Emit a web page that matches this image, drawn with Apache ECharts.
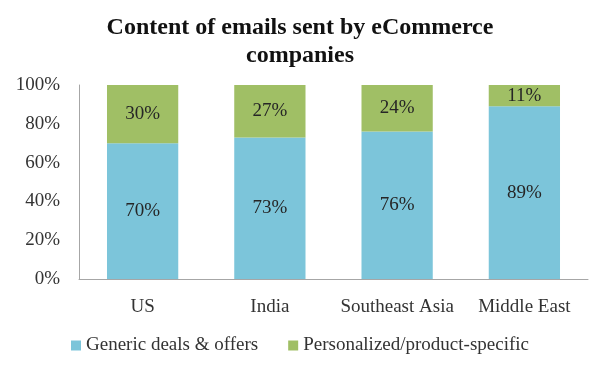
<!DOCTYPE html>
<html><head><meta charset="utf-8">
<script src="https://cdn.jsdelivr.net/npm/echarts@6/dist/echarts.min.js"></script>
<style>html,body{margin:0;padding:0;background:#fff}#c{width:600px;height:366px}</style>
</head><body><div id="c"></div>
<script>
const categories = ['US', 'India', 'Southeast Asia', 'Middle East'];
const generic = [70, 73, 76, 89];
const personalized = [30, 27, 24, 11];
const seriesNames = ['Generic deals & offers', 'Personalized/product-specific'];
const FONT = '"Liberation Serif", "DejaVu Serif", serif';
const chart = echarts.init(document.getElementById('c'));
const lbl = {show: true, position: 'inside', formatter: p => p.value + '%', color: '#262626', fontFamily: FONT, fontSize: 19};
chart.setOption({
  animation: false,
  title: {text: 'Content of emails sent by eCommerce\ncompanies', left: 'center', top: 9,
    textStyle: {fontFamily: FONT, fontWeight: 'bold', fontSize: 24, color: '#111', lineHeight: 28}},
  legend: {bottom: 6, left: 'center', itemWidth: 10, itemHeight: 10, itemGap: 30, icon: 'rect',
    textStyle: {fontFamily: FONT, fontSize: 19, color: '#333'}},
  grid: {left: 79, right: 12, top: 85, bottom: 87},
  xAxis: {type: 'category', data: categories,
    axisLine: {lineStyle: {color: '#a6a6a6', width: 1}}, axisTick: {show: false},
    axisLabel: {interval: 0, hideOverlap: false, fontFamily: FONT, fontSize: 19, color: '#333', margin: 19}},
  yAxis: {type: 'value', min: 0, max: 100, interval: 20,
    axisLine: {show: true, lineStyle: {color: '#a6a6a6'}}, splitLine: {show: false}, axisTick: {show: false},
    axisLabel: {formatter: '{value}%', fontFamily: FONT, fontSize: 19, color: '#333', margin: 19}},
  series: [
    {name: seriesNames[0], type: 'bar', stack: 't', data: generic, barWidth: '56%',
      itemStyle: {color: '#7cc5da'}, label: lbl},
    {name: seriesNames[1], type: 'bar', stack: 't', data: personalized, barWidth: '56%',
      itemStyle: {color: '#a0bf65'}, label: lbl}
  ]
});
</script></body></html>
